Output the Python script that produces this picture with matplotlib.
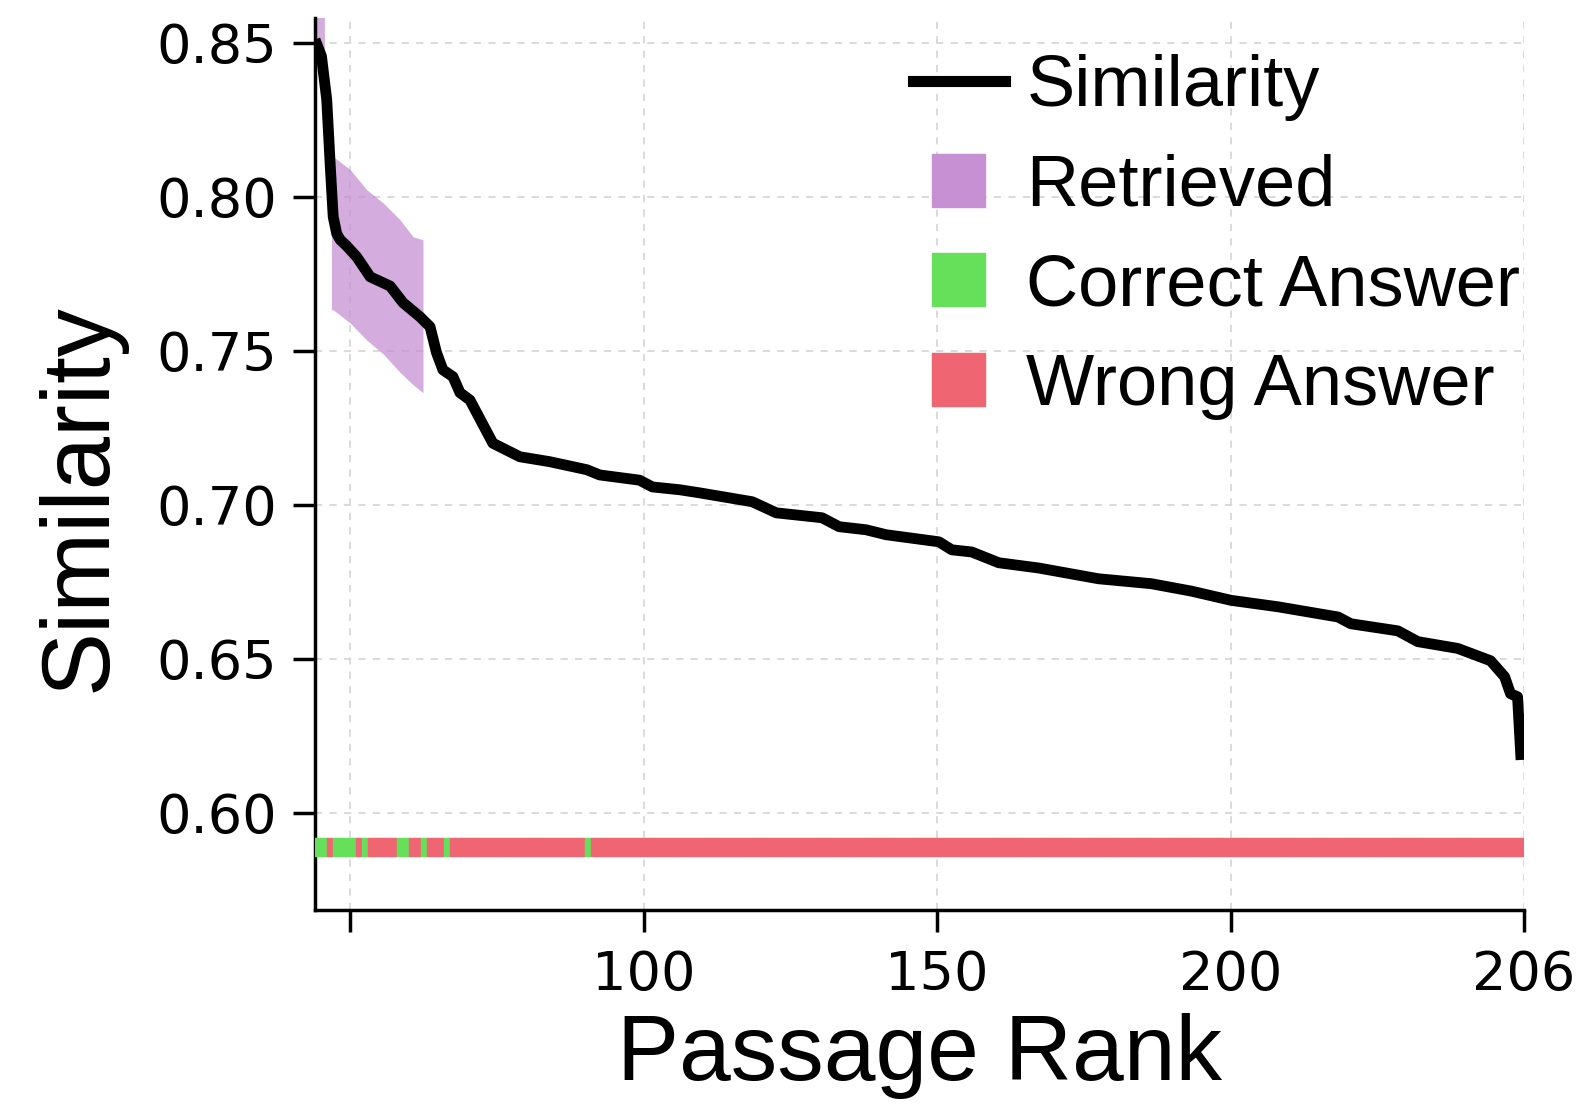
import numpy as np
import matplotlib
matplotlib.use("Agg")
import matplotlib.pyplot as plt
from matplotlib.patches import Patch, Rectangle
from matplotlib.lines import Line2D
from matplotlib.legend_handler import HandlerPatch

# similarity curve (vertices)
sim_x = [44, 45.1, 46, 46.6, 47.1, 47.7, 48.3, 49.4, 51.1, 53.4, 56.8, 59, 61.9,
         63.6, 64.7, 65.8, 67.5, 68.7, 70.4, 74.3, 78.9, 84, 90.3, 92.5, 99.3,
         101.5, 106.1, 109.5, 118.5, 122.6, 130.4, 133.3, 137.9, 141.3, 150.3,
         152.5, 155.9, 160.5, 167.3, 177.5, 186.5, 193.3, 200.1, 208.1, 218.3,
         220.5, 228.5, 231.9, 238.7, 244.3, 246.7, 247.7, 248.9, 249.5]
sim_y = [0.851, 0.8456, 0.8315, 0.810, 0.7935, 0.788, 0.786, 0.784, 0.7805,
         0.774, 0.771, 0.7656, 0.761, 0.7578, 0.7494, 0.7438, 0.7416, 0.7364,
         0.734, 0.720, 0.7156, 0.714, 0.7114, 0.7097, 0.708, 0.7058, 0.7049,
         0.7039, 0.701, 0.6974, 0.6958, 0.6929, 0.6919, 0.6903, 0.688, 0.6854,
         0.6847, 0.6812, 0.6795, 0.676, 0.6744, 0.672, 0.669, 0.6669, 0.6636,
         0.6614, 0.6591, 0.6556, 0.6534, 0.6494, 0.6442, 0.6387, 0.6377, 0.6172]

# retrieved band, two pieces
band1_x = [44, 45.6]
band1_lo = [0.845, 0.842]
band1_hi = [0.875, 0.872]
band2_x = [46.8, 47.1, 50, 52.8, 55.6, 58.5, 60.7, 62.4]
band2_lo = [0.7633, 0.7633, 0.759, 0.7535, 0.749, 0.743, 0.739, 0.7364]
band2_hi = [0.813, 0.813, 0.8088, 0.8023, 0.798, 0.7925, 0.787, 0.786]

# answer strip: one cell per passage
passage_x = np.arange(44, 250)
correct_x = [44, 45, 47, 48, 49, 50, 52, 58, 59, 62, 66, 90]
strip_y = 0.5857
strip_h = 0.0062

xtick_pos = [50, 100, 150, 200, 250]
xtick_lbl = ["", "100", "150", "200", "206"]
ytick_pos = [0.60, 0.65, 0.70, 0.75, 0.80, 0.85]
ytick_lbl = ["0.60", "0.65", "0.70", "0.75", "0.80", "0.85"]

C_RET = "#c690d3"
C_OK = "#66e05a"
C_BAD = "#ef6571"

fig = plt.figure(figsize=(15.82, 11.16), dpi=100)
ax = fig.add_axes([315 / 1582, 1 - 910 / 1116, 1209 / 1582, 892 / 1116])

ax.fill_between(band1_x, band1_lo, band1_hi, color=C_RET, alpha=0.75, lw=0, zorder=2)
ax.fill_between(band2_x, band2_lo, band2_hi, color=C_RET, alpha=0.75, lw=0, zorder=2)
ax.plot(sim_x, sim_y, color="black", lw=7.8, zorder=4, solid_capstyle="butt")

cols = [C_OK if x in correct_x else C_BAD for x in passage_x]
ax.bar(passage_x, strip_h, width=1, bottom=strip_y, align="edge",
       color=cols, edgecolor=cols, linewidth=0.3, zorder=3)

ax.set_xlim(44, 250)
ax.set_ylim(0.5685, 0.858)
ax.set_xticks(xtick_pos)
ax.set_xticklabels(xtick_lbl)
ax.set_yticks(ytick_pos)
ax.set_yticklabels(ytick_lbl)
ax.tick_params(axis="both", labelsize=39, width=2.5, length=16)
ax.tick_params(axis="y", pad=11)
ax.tick_params(axis="x", pad=12)

for s in ("top", "right"):
    ax.spines[s].set_visible(False)
for s in ("left", "bottom"):
    ax.spines[s].set_linewidth(2.5)

ax.grid(True, color="#d8d8d8", linestyle=(0, (4, 4)), linewidth=1.3, zorder=0)
ax.set_axisbelow(True)

ax.set_xlabel("Passage Rank", fontsize=67, family="Liberation Sans", labelpad=9)
ax.set_ylabel("Similarity", fontsize=69, family="Liberation Sans")
ax.yaxis.set_label_coords(-0.157, 0.462)


def square_patch(legend, orig_handle, xdescent, ydescent, width, height, fontsize):
    s = 38
    return Rectangle((-xdescent + (width - s) / 2, -ydescent + (height - s) / 2), s, s)


handles = [
    Line2D([], [], color="black", lw=8),
    Patch(color=C_RET),
    Patch(color=C_OK),
    Patch(color=C_BAD),
]
labels = ["Similarity", "Retrieved", "Correct Answer", "Wrong Answer"]
leg = ax.legend(handles, labels, loc="upper left",
                bbox_to_anchor=(913 / 1582, 1 - 54 / 1116),
                bbox_transform=fig.transFigure, frameon=False,
                prop={"family": "Liberation Sans", "size": 52},
                handlelength=1.27, handletextpad=0.3, labelspacing=0.45,
                borderpad=0, borderaxespad=0,
                handler_map={Patch: HandlerPatch(patch_func=square_patch)})

fig.savefig("out.png", dpi=100)
